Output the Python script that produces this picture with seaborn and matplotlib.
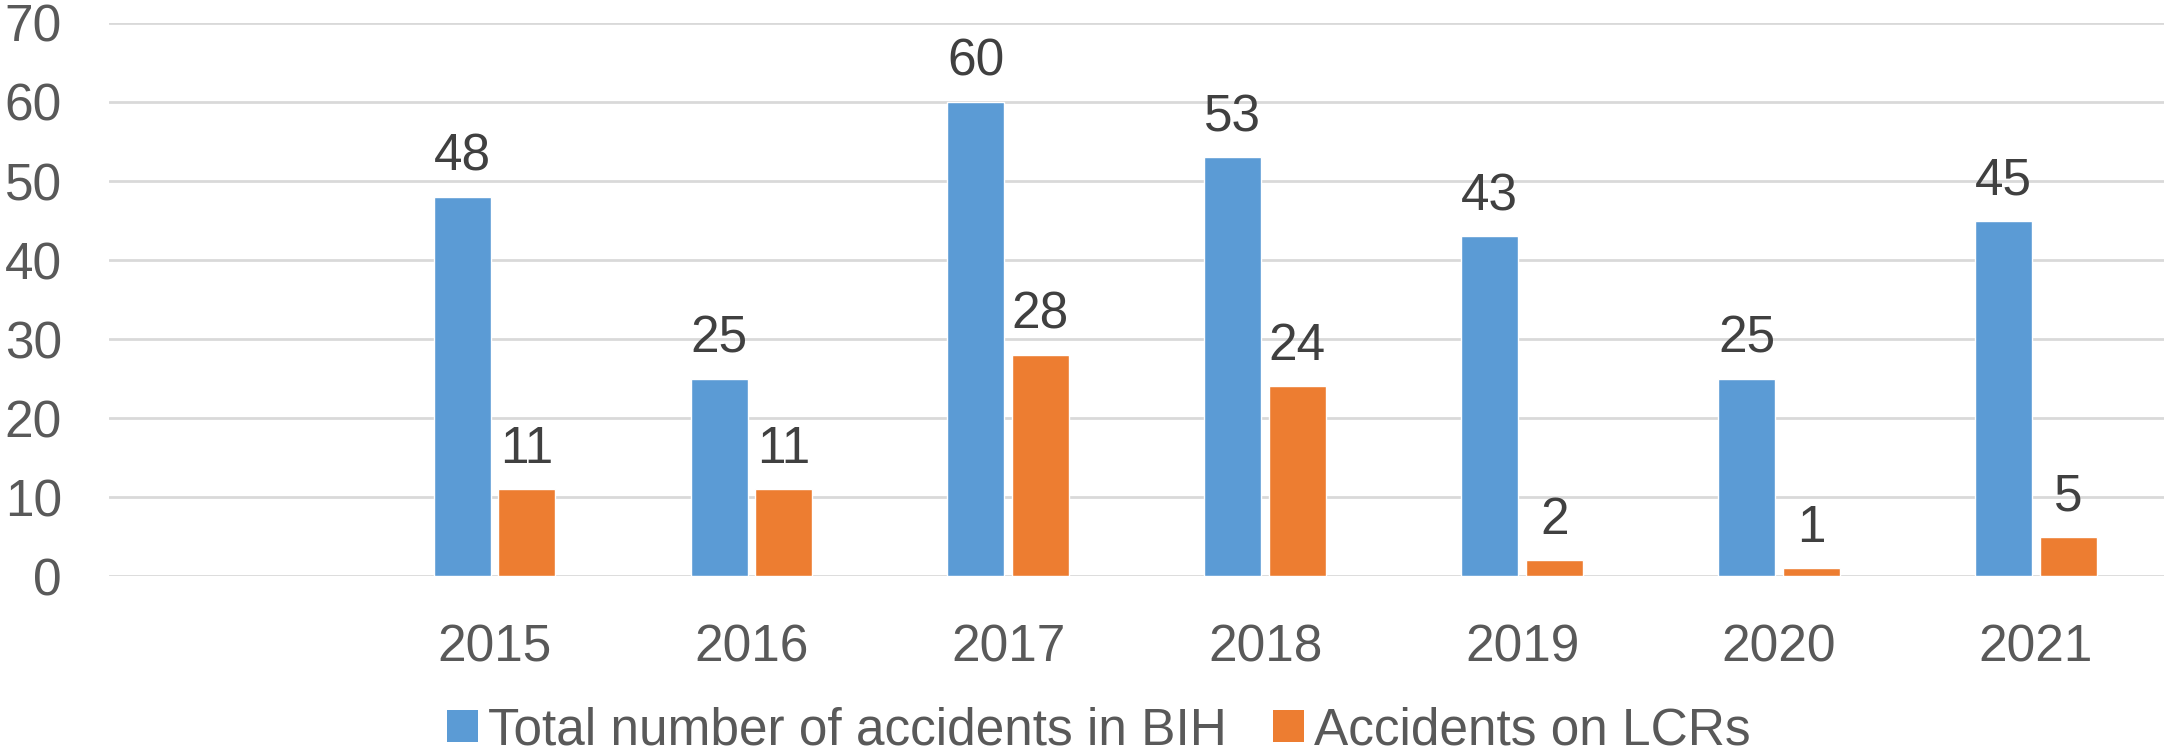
import matplotlib
matplotlib.use("Agg")
import matplotlib.pyplot as plt
import seaborn as sns
import pandas as pd
from matplotlib.patches import Patch

categories = ["", "2015", "2016", "2017", "2018", "2019", "2020", "2021"]
years = ["2015", "2016", "2017", "2018", "2019", "2020", "2021"]
total_bih = [48, 25, 60, 53, 43, 25, 45]
lcr = [11, 11, 28, 24, 2, 1, 5]
series_names = ["Total number of accidents in BIH", "Accidents on LCRs"]
colors = ["#5B9BD5", "#ED7D31"]
yticks = [0, 10, 20, 30, 40, 50, 60, 70]

df = pd.DataFrame({
    "year": years * 2,
    "value": total_bih + lcr,
    "series": [series_names[0]] * len(years) + [series_names[1]] * len(years),
})

sns.set_theme(style="white")
FONT = ["Liberation Sans Narrow", "Liberation Sans", "DejaVu Sans"]
plt.rcParams["font.family"] = FONT
FS = 37

fig = plt.figure(figsize=(21.68, 7.56), dpi=100)
ax = fig.add_axes([0.0503, 0.238, 0.948, 0.7316])

sns.barplot(data=df, x="year", y="value", hue="series", order=categories,
            hue_order=series_names, palette=colors, width=0.502, gap=0.116,
            saturation=1, ax=ax, legend=False)

for cont in ax.containers:
    ax.bar_label(cont, fmt="%d", padding=11, fontsize=FS, color="#404040")

ax.set_ylim(0, 70)
ax.set_yticks(yticks)
ax.set_xlim(-0.5, len(categories) - 0.5)
ax.set_xlabel("")
ax.set_ylabel("")
ax.grid(axis="y", color="#D9D9D9", linewidth=2)
ax.set_axisbelow(True)
for s in ax.spines.values():
    s.set_visible(False)
ax.tick_params(axis="y", length=0, pad=34, labelsize=FS, labelcolor="#595959")
ax.tick_params(axis="x", length=0, pad=34, labelsize=FS, labelcolor="#595959")

handles = [Patch(facecolor=c, edgecolor="none") for c in colors]
fig.legend(handles, series_names, loc="lower center", bbox_to_anchor=(0.507, -0.06),
           ncol=2, frameon=False, fontsize=FS, handlelength=0.6, handleheight=0.6,
           handletextpad=0.2, columnspacing=0.9, labelcolor="#595959")

fig.savefig("out.png", dpi=100)
